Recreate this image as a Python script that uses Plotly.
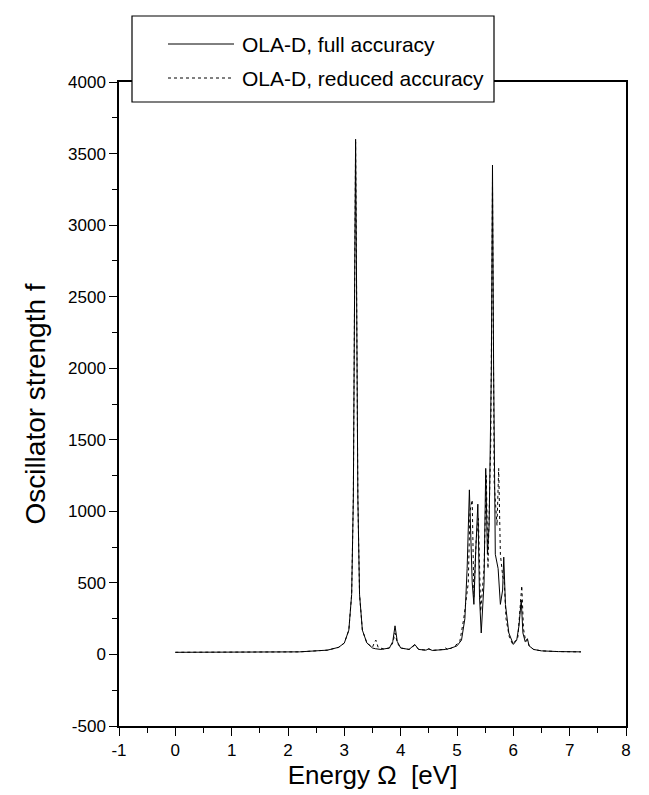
import plotly.graph_objects as go

# Energy (eV) and oscillator strength, full accuracy (solid)
energy_full = [0.0, 1.0, 2.2, 2.7, 2.9, 3.0, 3.08, 3.13, 3.16, 3.18,
               3.20, 3.22, 3.24, 3.27, 3.32, 3.4, 3.5, 3.55, 3.65, 3.8,
               3.86, 3.90, 3.94, 4.0, 4.15, 4.25, 4.32, 4.45, 4.5, 4.56,
               4.7, 4.8, 4.9, 5.0, 5.08, 5.14, 5.18, 5.22, 5.27, 5.30,
               5.33, 5.37, 5.40, 5.43, 5.48, 5.51, 5.54, 5.57, 5.61, 5.63,
               5.65, 5.68, 5.73, 5.77, 5.81, 5.83, 5.86, 5.92, 6.0, 6.06,
               6.10, 6.14, 6.17, 6.21, 6.25, 6.28, 6.36, 6.5, 6.8, 7.2]
f_full = [15, 15, 18, 30, 50, 80, 170, 420, 1100, 2400,
          3600, 2400, 1100, 420, 170, 80, 45, 40, 35, 45,
          90, 200, 90, 45, 35, 70, 35, 30, 40, 28,
          30, 35, 45, 60, 100, 250, 600, 1150, 500, 350,
          700, 1050, 400, 150, 500, 1300, 700, 900, 2000, 3420,
          2000, 700, 600, 350, 450, 680, 350, 150, 70, 100,
          200, 380, 150, 90, 110, 60, 35, 25, 20, 18]

# Energy (eV) and oscillator strength, reduced accuracy (dotted)
energy_red = [0.0, 1.0, 2.2, 2.7, 2.9, 3.0, 3.08, 3.13, 3.16, 3.18,
              3.20, 3.22, 3.24, 3.27, 3.32, 3.4, 3.5, 3.53, 3.56, 3.6,
              3.7, 3.8, 3.86, 3.90, 3.94, 4.0, 4.15, 4.25, 4.32, 4.45,
              4.5, 4.56, 4.7, 4.76, 4.8, 4.84, 4.95, 5.05, 5.12, 5.17,
              5.20, 5.23, 5.27, 5.30, 5.34, 5.38, 5.42, 5.48, 5.52, 5.55,
              5.60, 5.63, 5.66, 5.71, 5.74, 5.77, 5.81, 5.84, 5.87, 5.93,
              5.99, 6.08, 6.11, 6.15, 6.18, 6.22, 6.25, 6.28, 6.36, 6.5,
              6.8, 7.2]
f_red = [15, 15, 18, 30, 50, 80, 170, 420, 1100, 2400,
         3580, 2400, 1100, 420, 170, 80, 50, 80, 100, 50,
         38, 45, 80, 150, 80, 45, 35, 65, 35, 30,
         38, 28, 30, 35, 45, 32, 55, 90, 250, 420,
         500, 1000, 1080, 400, 800, 950, 300, 600, 1250, 600,
         1500, 3300, 1200, 900, 1300, 700, 550, 500, 250, 120,
         70, 120, 250, 480, 180, 90, 100, 60, 35, 25,
         20, 18]

series_names = ["OLA-D, full accuracy", "OLA-D, reduced accuracy"]

x_ticks = [-1, 0, 1, 2, 3, 4, 5, 6, 7, 8]
x_labels = ["-1", "0", "1", "2", "3", "4", "5", "6", "7", "8"]
y_ticks = [-500, 0, 500, 1000, 1500, 2000, 2500, 3000, 3500, 4000]
y_labels = ["-500", "0", "500", "1000", "1500", "2000", "2500", "3000", "3500", "4000"]

FONT = "Liberation Sans, Arial, Helvetica, sans-serif"
W, H = 649, 795
ML, MR, MT, MB = 111, 31, 74, 77
PW, PH = W - ML - MR, H - MT - MB


def px_x(p):
    return (p - ML) / PW


def px_y(p):
    return (H - MB - p) / PH


fig = go.Figure()
fig.add_trace(go.Scatter(x=energy_full, y=f_full, mode="lines", name=series_names[0],
                         line=dict(color="black", width=1)))
fig.add_trace(go.Scatter(x=energy_red, y=f_red, mode="lines", name=series_names[1],
                         line=dict(color="black", width=1, dash="dot")))

fig.update_layout(
    width=W, height=H,
    margin=dict(l=ML, r=MR, t=MT, b=MB),
    paper_bgcolor="white", plot_bgcolor="white",
    font=dict(family=FONT, color="black", size=17),
    showlegend=False,
)
fig.update_xaxes(range=[-1, 8], tickvals=x_ticks, ticktext=x_labels,
                 showgrid=False, zeroline=False,
                 showline=True, linecolor="black", linewidth=1.5, mirror=True,
                 ticks="outside", ticklen=8, tickwidth=1.2, tickcolor="black",
                 tickfont=dict(size=17),
                 minor=dict(dtick=0.5, ticks="outside", ticklen=5, tickcolor="black", tickwidth=1),
                 title=dict(text="Energy Ω  [eV]", font=dict(size=26), standoff=2))
fig.update_yaxes(range=[-500, 4000], tickvals=y_ticks, ticktext=y_labels,
                 showgrid=False, zeroline=False,
                 showline=True, linecolor="black", linewidth=1.5, mirror=True,
                 ticks="outside", ticklen=8, tickwidth=1.2, tickcolor="black",
                 tickfont=dict(size=17),
                 minor=dict(dtick=250, ticks="outside", ticklen=5, tickcolor="black", tickwidth=1),
                 title=dict(text="Oscillator strength f", font=dict(size=28), standoff=14))

# Boxed legend that straddles the top frame line
box_l, box_r, box_t, box_b = 124, 486, 8, 94
samp_l, samp_r, text_x = 160, 226, 232
row1, row2 = 36, 70
fig.add_shape(type="rect", xref="paper", yref="paper",
              x0=px_x(box_l), x1=px_x(box_r), y0=px_y(box_b), y1=px_y(box_t),
              line=dict(color="black", width=1.2), fillcolor="white", layer="above")
fig.add_shape(type="line", xref="paper", yref="paper",
              x0=px_x(samp_l), x1=px_x(samp_r), y0=px_y(row1), y1=px_y(row1),
              line=dict(color="black", width=1), layer="above")
fig.add_shape(type="line", xref="paper", yref="paper",
              x0=px_x(samp_l), x1=px_x(samp_r), y0=px_y(row2), y1=px_y(row2),
              line=dict(color="black", width=1, dash="dot"), layer="above")
for name, yy in zip(series_names, [row1, row2]):
    fig.add_annotation(text=name, xref="paper", yref="paper", x=px_x(text_x), y=px_y(yy),
                       xanchor="left", yanchor="middle", showarrow=False,
                       font=dict(size=21, family=FONT, color="black"))

fig.write_html("out.html")
